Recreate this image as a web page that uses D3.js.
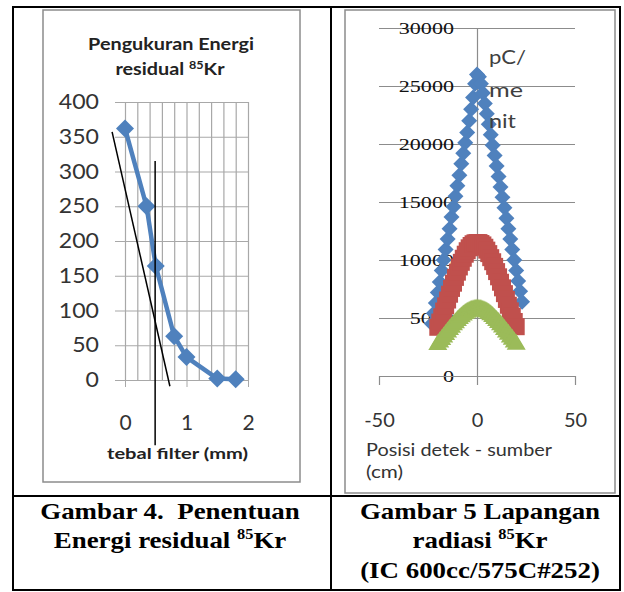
<!DOCTYPE html>
<html><head><meta charset="utf-8">
<script src="https://cdn.jsdelivr.net/npm/d3@7"></script>
<style>body{margin:0;background:#fff}svg text{white-space:pre}</style>
</head><body><svg id="c" width="624" height="592"></svg>
<script>
// ---------- data: left chart ----------
const leftXGrid = [0, 0.2, 0.4, 0.6, 0.8, 1, 1.2, 1.4, 1.6, 1.8, 2];
const leftXLabels = [0, 1, 2];
const leftYTicks = [0, 50, 100, 150, 200, 250, 300, 350, 400];
const filterThickness = [0, 0.35, 0.5, 0.8, 1.0, 1.5, 1.8];
const residualEnergy = [362, 250, 164, 63, 33, 2, 1];
const tangentLine = [[-0.21, 357], [0.73, -9]];
const cutoffLine = [[0.49, 315], [0.49, -94]];

// ---------- data: right chart ----------
const rightXTicks = [-50, 0, 50];
const rightYTicks = [0, 5000, 10000, 15000, 20000, 25000, 30000];
const posBlue = [-23,-22,-21,-20,-19,-18,-17,-16,-15,-14,-13,-12,-11,-10,-9,-8,-7,-6,-5,-4,-3,-2,-1,0,1,2,3,4,5,6,7,8,9,10,11,12,13,14,15,16,17,18,19,20,21,22,23];
const chargeBlue = [4500,5400,6300,7200,8100,9100,10000,10900,11800,12700,13700,14600,15500,16400,17300,18300,19200,20100,21000,22000,23000,24000,25200,26000,25800,25200,24400,23500,22600,21700,20800,19900,19000,18100,17200,16300,15400,14500,13600,12700,11800,10900,10000,9100,8200,7300,6400];
const posRed = [-20,-19,-18,-17,-16,-15,-14,-13,-12,-11,-10,-9,-8,-7,-6,-5,-4,-3,-2,-1,0,1,2,3,4,5,6,7,8,9,10,11,12,13,14,15,16,17,18,19,20];
const chargeRed = [4200,4650,5100,5600,6050,6550,7050,7550,8000,8500,8950,9400,9800,10150,10500,10800,11050,11250,11400,11480,11500,11500,11420,11300,11100,10850,10550,10200,9850,9450,9000,8550,8080,7600,7100,6600,6100,5620,5150,4700,4250];
const posGreen = [-20,-19,-18,-17,-16,-15,-14,-13,-12,-11,-10,-9,-8,-7,-6,-5,-4,-3,-2,-1,0,1,2,3,4,5,6,7,8,9,10,11,12,13,14,15,16,17,18,19,20];
const chargeGreen = [2850,3060,3280,3490,3710,3920,4130,4340,4540,4730,4910,5080,5240,5390,5520,5630,5720,5800,5850,5880,5900,5890,5860,5800,5730,5640,5530,5400,5250,5090,4920,4740,4550,4350,4140,3930,3720,3500,3290,3070,2860];

const BLUE = '#4F81BD', RED = '#C0504D', GREEN = '#9BBB59';
const SANS = 'Lato, "Open Sans", sans-serif';
const SERIF = '"Liberation Serif", "Times New Roman", serif';
const plain = d => String(d);

const svg = d3.select('#c');
svg.append('rect').attr('width', 624).attr('height', 592).attr('fill', '#fff');

function stext(parent, x, y, sx, anchor) {
  return parent.append('g').attr('transform', `translate(${x},${y}) scale(${sx},1)`)
    .append('text').attr('text-anchor', anchor || 'middle');
}

// ================= LEFT CHART =================
const gL = svg.append('g');
gL.append('rect').attr('x', 43).attr('y', 10).attr('width', 257).attr('height', 472)
  .attr('fill', '#fff').attr('stroke', '#8c8c8c').attr('stroke-width', 1.5);

const xL = d3.scaleLinear().domain([0, 2]).range([125, 248]);
const yL = d3.scaleLinear().domain([0, 400]).range([380, 102]);

// vertical gridlines
const vgrid = gL.append('g').attr('transform', `translate(0,${yL(0)})`)
  .call(d3.axisBottom(xL).tickValues(leftXGrid).tickSize(-(yL(0) - yL(400))).tickFormat(''));
vgrid.select('.domain').remove();
vgrid.selectAll('line').attr('stroke', '#a8a8a8').attr('stroke-width', 1.2);

// horizontal gridlines + y labels
const yAxL = gL.append('g').attr('transform', `translate(115,0)`)
  .call(d3.axisLeft(yL).tickValues(leftYTicks).tickSize(-(xL(2) - 115)).tickPadding(16).tickFormat(plain));
yAxL.select('.domain').remove();
yAxL.selectAll('line').attr('stroke', '#a8a8a8').attr('stroke-width', 1.2);
yAxL.selectAll('text').attr('font-family', SANS).attr('font-size', 21).attr('fill', '#333')
  .attr('transform', 'scale(1.1,1)').attr('x', -16 / 1.1);

// x axis ticks + labels
const xAxL = gL.append('g').attr('transform', `translate(0,${yL(0)})`)
  .call(d3.axisBottom(xL).tickValues(leftXLabels).tickSize(7).tickSizeOuter(0).tickFormat(plain));
xAxL.select('.domain').attr('stroke', '#a8a8a8');
xAxL.selectAll('line').attr('stroke', '#a8a8a8');
xAxL.selectAll('text').attr('font-family', SANS).attr('font-size', 21).attr('fill', '#333')
  .attr('y', 50).attr('dy', null);

// data line
const lineL = d3.line().x((d, i) => xL(filterThickness[i])).y(d => yL(d));
gL.append('path').datum(residualEnergy).attr('d', lineL)
  .attr('fill', 'none').attr('stroke', BLUE).attr('stroke-width', 4.5).attr('stroke-linejoin', 'round');
gL.selectAll('path.mk').data(residualEnergy).join('path').attr('class', 'mk')
  .attr('transform', (d, i) => `translate(${xL(filterThickness[i])},${yL(d)})`)
  .attr('d', 'M0,-9L9,0L0,9L-9,0Z').attr('fill', BLUE);

// annotation lines
const segL = d3.line().x(d => xL(d[0])).y(d => yL(d[1]));
gL.append('path').datum(tangentLine).attr('d', segL).attr('stroke', '#000').attr('stroke-width', 1.5);
gL.append('path').datum(cutoffLine).attr('d', segL).attr('stroke', '#000').attr('stroke-width', 1.5);

// titles
const t1 = stext(gL, 171, 50, 1.2).attr('font-family', SANS).attr('font-weight', 700).attr('font-size', 16.5).attr('fill', '#222');
t1.text('Pengukuran Energi');
const t2 = stext(gL, 170, 75, 1.2).attr('font-family', SANS).attr('font-weight', 700).attr('font-size', 16.5).attr('fill', '#222');
t2.append('tspan').text('residual ');
t2.append('tspan').attr('font-size', 10.5).attr('dy', -6).text('85');
t2.append('tspan').attr('dy', 6).text('Kr');
gL.append('text').attr('x', 177.5).attr('y', 459).attr('text-anchor', 'middle')
  .attr('font-family', SANS).attr('font-weight', 700).attr('font-size', 16).attr('fill', '#222')
  .attr('textLength', 141).attr('lengthAdjust', 'spacingAndGlyphs').text('tebal filter (mm)');

// ================= RIGHT CHART =================
const gR = svg.append('g');
gR.append('rect').attr('x', 345).attr('y', 10).attr('width', 270).attr('height', 483)
  .attr('fill', '#fff').attr('stroke', '#8c8c8c').attr('stroke-width', 1.5);

const xR = d3.scaleLinear().domain([-50, 50]).range([379, 575]);
const yR = d3.scaleLinear().domain([0, 30000]).range([376, 28]);

// horizontal gridlines
const hgR = gR.append('g').attr('transform', `translate(${xR(-50)},0)`)
  .call(d3.axisLeft(yR).tickValues(rightYTicks).tickSize(-(xR(50) - xR(-50))).tickFormat(''));
hgR.select('.domain').remove();
hgR.selectAll('line').attr('stroke', '#8c8c8c').attr('stroke-width', 1.2);

// y axis at x=0 with labels
const yAxR = gR.append('g').attr('transform', `translate(${xR(0)},0)`)
  .call(d3.axisLeft(yR).tickValues(rightYTicks).tickSize(0).tickSizeOuter(0).tickPadding(23).tickFormat(plain));
yAxR.select('.domain').attr('stroke', '#8c8c8c').attr('stroke-width', 1.2);
yAxR.selectAll('text').attr('font-family', SERIF).attr('font-size', 17).attr('fill', '#111')
  .attr('transform', 'scale(1.3,1)').attr('x', -23 / 1.3);

// x axis
const xAxR = gR.append('g').attr('transform', `translate(0,${yR(0)})`)
  .call(d3.axisBottom(xR).tickValues(rightXTicks).tickSize(9).tickSizeOuter(0).tickFormat(plain));
xAxR.select('.domain').attr('stroke', '#8c8c8c').attr('stroke-width', 1.2);
xAxR.selectAll('line').attr('stroke', '#8c8c8c').attr('stroke-width', 1.2);
xAxR.selectAll('text').attr('font-family', SANS).attr('font-size', 20).attr('fill', '#333')
  .attr('y', 51).attr('dy', null);

// series markers
gR.selectAll('path.b').data(chargeBlue).join('path').attr('class', 'b')
  .attr('transform', (d, i) => `translate(${xR(posBlue[i])},${yR(d)})`)
  .attr('d', 'M0,-8L8,0L0,8L-8,0Z').attr('fill', BLUE);
gR.selectAll('path.r').data(chargeRed).join('path').attr('class', 'r')
  .attr('transform', (d, i) => `translate(${xR(posRed[i])},${yR(d)})`)
  .attr('d', 'M-8.5,-8.5H8.5V8.5H-8.5Z').attr('fill', RED);
gR.selectAll('path.g').data(chargeGreen).join('path').attr('class', 'g')
  .attr('transform', (d, i) => `translate(${xR(posGreen[i])},${yR(d)})`)
  .attr('d', 'M0,-9L9.5,7L-9.5,7Z').attr('fill', GREEN);

// unit label
const unitLines = [['pC/', 64, 37], ['me', 97, 34], ['nit', 128, 27]];
unitLines.forEach(u => {
  gR.append('text').attr('x', 489).attr('y', u[1]).attr('font-family', SANS).attr('font-size', 20)
    .attr('fill', '#404040').attr('textLength', u[2]).attr('lengthAdjust', 'spacingAndGlyphs').text(u[0]);
});

// axis title
gR.append('text').attr('x', 366).attr('y', 456).attr('font-family', SANS).attr('font-size', 18).attr('fill', '#333')
  .attr('textLength', 186).attr('lengthAdjust', 'spacingAndGlyphs').text('Posisi detek - sumber');
gR.append('text').attr('x', 366).attr('y', 478).attr('font-family', SANS).attr('font-size', 18).attr('fill', '#333')
  .attr('textLength', 37).attr('lengthAdjust', 'spacingAndGlyphs').text('(cm)');

// ================= TABLE =================
const tb = svg.append('g').attr('fill', 'none').attr('stroke', '#000').attr('stroke-width', 2);
tb.append('rect').attr('x', 13).attr('y', 7).attr('width', 607).attr('height', 583);
tb.append('line').attr('x1', 331).attr('x2', 331).attr('y1', 7).attr('y2', 590);
tb.append('line').attr('x1', 13).attr('x2', 620).attr('y1', 496).attr('y2', 496);

// captions
function caption(x, y, parts) {
  const t = stext(svg, x, y, 1.17).attr('font-family', SERIF).attr('font-weight', 700).attr('font-size', 23).attr('fill', '#000');
  parts.forEach(p => {
    if (p.sup) { t.append('tspan').attr('font-size', 14).attr('dy', -9).text(p.t); }
    else { t.append('tspan').attr('dy', p.after ? 9 : 0).text(p.t); }
  });
}
caption(170, 519, [{t: 'Gambar 4.  Penentuan'}]);
caption(170, 548, [{t: 'Energi residual '}, {t: '85', sup: true}, {t: 'Kr', after: true}]);
caption(480, 519, [{t: 'Gambar 5 Lapangan'}]);
caption(480, 548, [{t: 'radiasi '}, {t: '85', sup: true}, {t: 'Kr', after: true}]);
caption(480, 578, [{t: '(IC 600cc/575C#252)'}]);
</script>
</body></html>
